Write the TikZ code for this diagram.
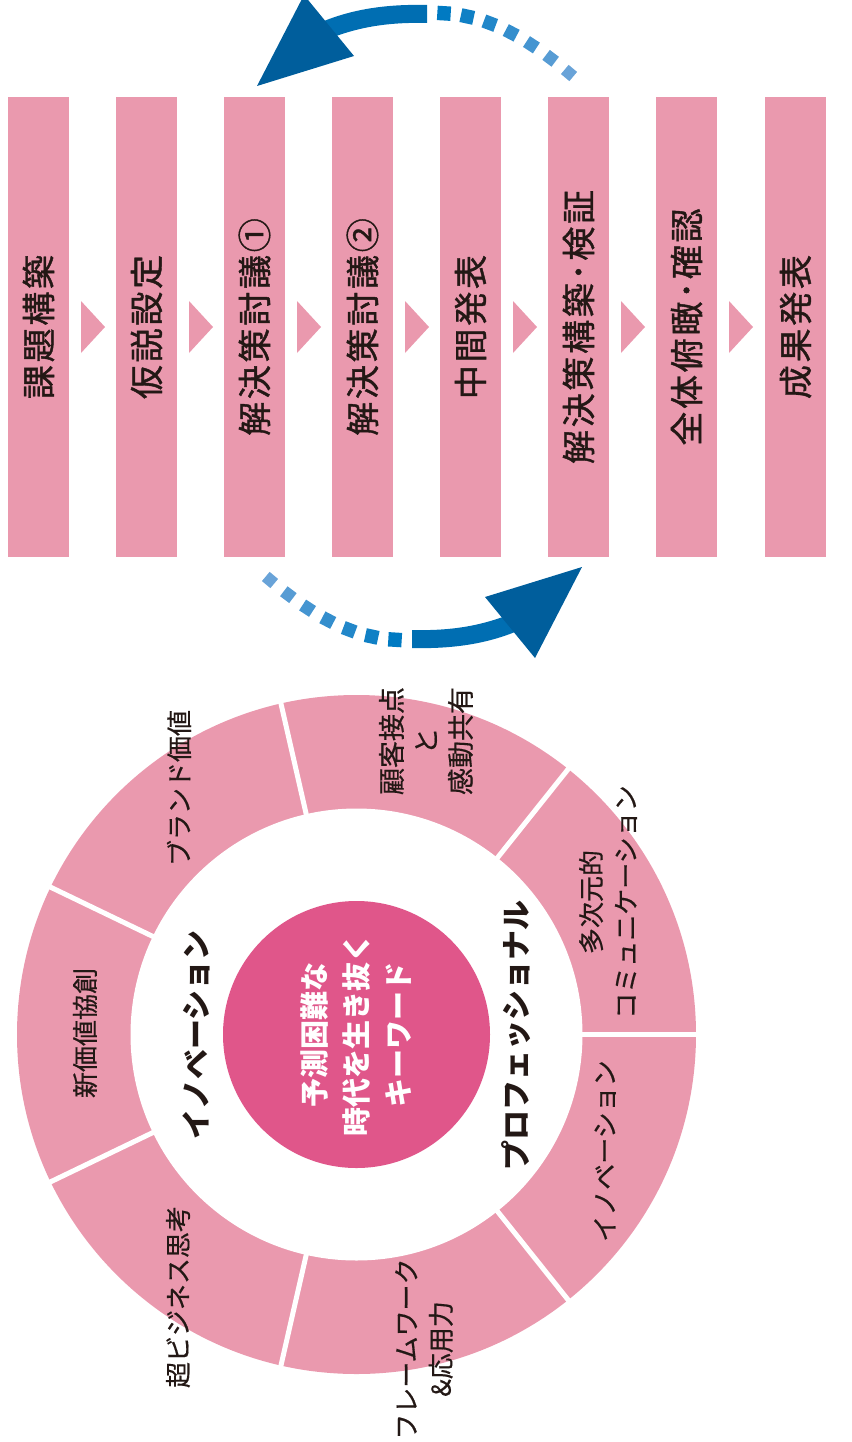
\documentclass[tikz,border=0pt]{standalone}
\usepackage{fontspec}
\setmainfont{Noto Sans CJK JP}
\usetikzlibrary{decorations.markings}
\definecolor{pinkL}{RGB}{234,153,174}
\definecolor{pinkD}{RGB}{224,86,138}
\definecolor{ink}{RGB}{35,24,21}
\definecolor{blueD}{RGB}{0,94,156}
\definecolor{blueM}{RGB}{0,110,178}
\definecolor{blueL}{RGB}{105,163,216}
\definecolor{blueDot}{RGB}{0,122,194}
\tikzset{
  barbox/.style={fill=pinkL, rotate=90, minimum width=460pt, minimum height=61pt,
    inner sep=0pt, text=ink, font=\fontsize{34}{40}\selectfont\addfontfeature{LetterSpace=8,FakeBold=1.2}},
  chev/.style={fill=pinkL},
  ringtxt/.style={rotate=90, text=ink, align=center, inner sep=0pt,
    font=\fontsize{26}{34.5}\selectfont\addfontfeature{FakeBold=0.5}},
  keylbl/.style={rotate=90, text=ink, inner sep=0pt, font=\bfseries\fontsize{30}{36}\selectfont},
  centertxt/.style={rotate=90, text=white, align=center, inner sep=0pt,
    font=\bfseries\fontsize{29}{42}\selectfont},
  dotmarks/.style={decoration={markings,
    mark=between positions 0 and 1 step 23.5pt with {%
      \pgfmathtruncatemacro\pct{min(100,(\pgfkeysvalueof{/pgf/decoration/mark info/sequence number}-1)*17)}%
      \colorlet{dotcol}{blueDot!\pct!blueL}%
      \pgfmathsetmacro\hs{5.5+\pct*0.012}%
      \fill[dotcol] (-\hs,-\hs-0.5) rectangle (\hs,\hs+0.5);}}, decorate},
}
\newcommand\mycyclearrow{%
  \path[dotmarks] (270,580) .. controls (320,622) and (360,640) .. (405,640);
  \fill[blueM] (412,630) .. controls (450,631) and (480,626) .. (508,615)
     -- (515,632) .. controls (485,644) and (452,649) .. (412,648) -- cycle;
  \fill[blueD] (582,567) -- (485,597) -- (535,658) -- cycle;
}
\begin{document}
\begin{tikzpicture}[x=1pt,y=-1pt]
\useasboundingbox (0,0) rectangle (851,1442);
% process bars
\foreach \i/\t in {0/課題構築,1/仮説設定,2/解決策討議①,3/解決策討議②,4/中間発表,5/解決策構築･検証,6/全体俯瞰･確認}
  \node[barbox] (bar\i) at ({38.5+108*\i},327) {\t};
\node[barbox] (bar7) at (795.5,327) {成果発表};
% chevrons
\foreach \i in {0,...,6}
  \fill[chev] ({81+108*\i},301) -- ({105+108*\i},327) -- ({81+108*\i},353) -- cycle;
% cycle arrows
\begin{scope}
  \mycyclearrow
\end{scope}
\begin{scope}[shift={(839,653)}, xscale=-1, yscale=-1]
  \mycyclearrow
\end{scope}
% ring
\begin{scope}[shift={(356.5,1034.5)}]
  \fill[pinkL] (0,0) circle (339.5);
  \fill[white] (0,0) circle (226);
  \foreach \a in {0,1,...,6}
    \draw[white, line width=5pt] ({\a*360/7}:222) -- ({\a*360/7}:345);
  \node[circle, fill=pinkD, minimum size=267pt, inner sep=0pt] (core) at (0,0) {};
\end{scope}
\node[centertxt] (coretxt) at (356,1035) {予測困難な\\時代を生き抜く\\キーワード};
\node[keylbl] (inno) at (196,1035) {イノベーション};
\node[keylbl] (pro) at (516,1035) {プロフェッショナル};
\node[ringtxt] (s1) at (179,788) {ブランド価値};
\node[ringtxt, font=\fontsize{27}{34.5}\selectfont\addfontfeature{FakeBold=0.5}] (s2) at (426,741) {顧客接点\\と\\感動共有};
\node[ringtxt] (s3) at (608,902) {多次元的\\コミュニケーション};
\node[ringtxt] (s4) at (605,1151) {イノベーション};
\node[ringtxt] (s5) at (424,1349) {フレームワーク\\\&応用力};
\node[ringtxt] (s6) at (178,1297) {超ビジネス思考};
\node[ringtxt] (s7) at (85,1033) {新価値協創};
\end{tikzpicture}
\end{document}
